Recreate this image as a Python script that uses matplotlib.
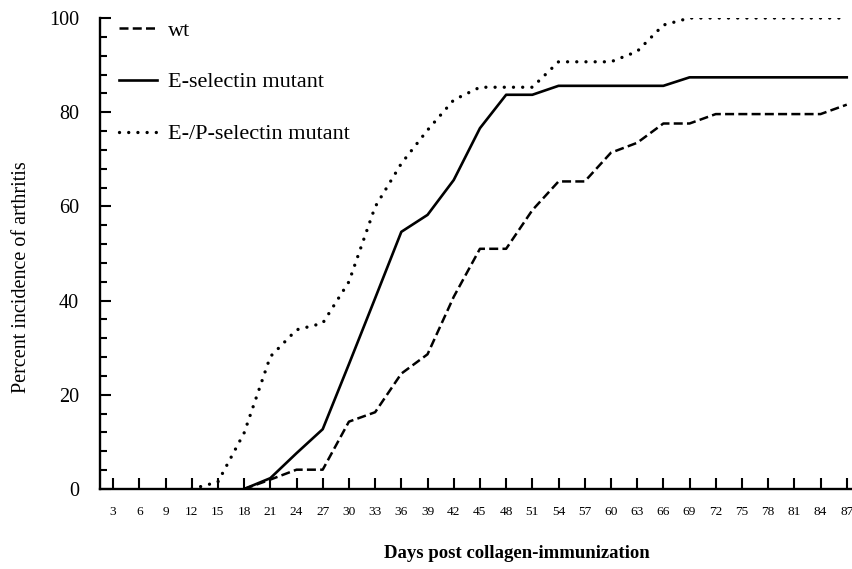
#!/usr/bin/env python3
# Percent incidence of arthritis vs days post collagen-immunization

import numpy as np
import matplotlib
matplotlib.use("Agg")
import matplotlib.pyplot as plt
from matplotlib.ticker import MultipleLocator

plt.rcParams["font.family"] = ["Liberation Serif", "DejaVu Serif"]

days = [3, 6, 9, 12, 15, 18, 21, 24, 27, 30, 33, 36, 39, 42, 45,
        48, 51, 54, 57, 60, 63, 66, 69, 72, 75, 78, 81, 84, 87]
nan = np.nan

wt = [nan, nan, nan, nan, nan, 0, 2.0, 4.1, 4.1, 14.3, 16.3, 24.5, 28.6, 40.8, 51.0,
      51.0, 59.2, 65.3, 65.3, 71.4, 73.5, 77.6, 77.6, 79.6, 79.6, 79.6, 79.6, 79.6, 81.6]
e_sel = [nan, nan, nan, nan, nan, 0, 2.3, 7.6, 12.7, 26.5, 40.5, 54.6, 58.2, 65.6, 76.6,
         83.7, 83.7, 85.6, 85.6, 85.6, 85.6, 85.6, 87.4, 87.4, 87.4, 87.4, 87.4, 87.4, 87.4]
ep_sel = [nan, nan, nan, 0, 1.5, 11.9, 28.1, 33.8, 35.2, 44.0, 59.9, 69.1, 76.2, 82.6, 85.3,
          85.3, 85.3, 90.7, 90.7, 90.7, 92.9, 98.5, 100, 100, 100, 100, 100, 100, 100]

labels = ["wt", "E-selectin mutant", "E-/P-selectin mutant"]

fig = plt.figure(figsize=(8.52, 5.69), dpi=100)
ax = fig.add_axes([100/852, 80/569, 752/852, 471/569])

ax.plot(days, wt, color="black", lw=1.8, linestyle=(0, (3.6, 1.7)), label=labels[0])
ax.plot(days, e_sel, color="black", lw=1.9, linestyle="-", label=labels[1])
ax.plot(days, ep_sel, color="black", lw=2.4, linestyle=(0, (0.01, 2.75)),
        dash_capstyle="round", label=labels[2])

ax.set_xlim(1.5, 87.6)
ax.set_ylim(0, 100)
ax.set_xticks(days)
ax.yaxis.set_major_locator(MultipleLocator(20))
ax.yaxis.set_minor_locator(MultipleLocator(4))

for s in ["top", "right"]:
    ax.spines[s].set_visible(False)
for s in ["left", "bottom"]:
    ax.spines[s].set_linewidth(1.7)

ax.tick_params(axis="x", direction="in", length=8, width=1.5, labelsize=9.6, pad=12)
ax.tick_params(axis="y", which="major", direction="in", length=8, width=1.5,
               labelsize=14.5, pad=15)
ax.tick_params(axis="y", which="minor", direction="in", length=5, width=1.5)

fig.text(22/852, 1 - 277/569, "Percent incidence of arthritis", rotation=90,
         ha="center", va="center", fontsize=14.5)
fig.text(517/852, 1 - 553/569, "Days post collagen-immunization",
         ha="center", va="center", fontsize=13.5, fontweight="bold")

ax.legend(loc="upper left", bbox_to_anchor=(119/852, 1 - 20/569),
          bbox_transform=fig.transFigure, frameon=False, fontsize=16,
          handlelength=1.7, handletextpad=0.5, labelspacing=1.41,
          borderpad=0, borderaxespad=0)

fig.savefig("out.png", dpi=100)
